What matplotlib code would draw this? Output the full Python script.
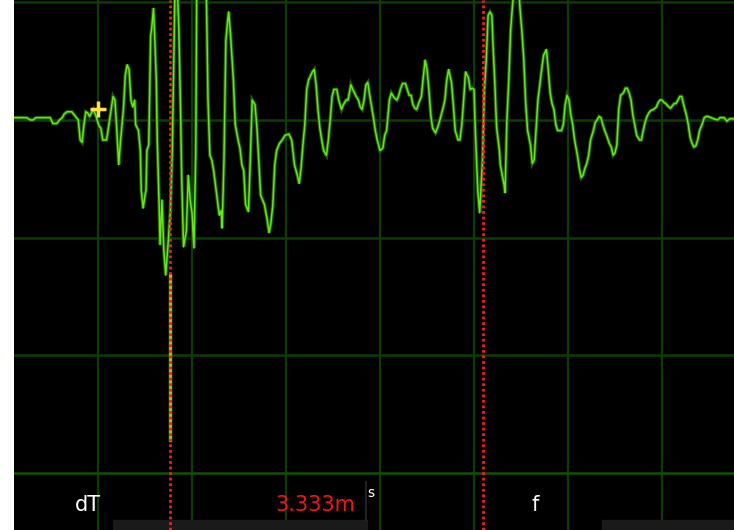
# oscilloscope capture, 1 ms/div, two time cursors
import matplotlib
matplotlib.use('Agg')
import matplotlib.pyplot as plt
from matplotlib.patches import Rectangle

# trace samples: time in ms, amplitude in divisions (0 = centre line)
t_ms = [0.11, 0.24, 0.28, 0.31, 0.34, 0.49, 0.52, 0.56, 0.59, 0.62, 0.64, 0.67, 0.72, 0.76,
        0.79, 0.81, 0.83, 0.85, 0.87, 0.89, 0.91, 0.95, 0.98, 1.01, 1.03, 1.05, 1.09, 1.11,
        1.14, 1.16, 1.18, 1.20, 1.22, 1.24, 1.27, 1.29, 1.31, 1.33, 1.35, 1.37, 1.39, 1.40,
        1.43, 1.45, 1.46, 1.48, 1.50, 1.51, 1.52, 1.54, 1.55, 1.56, 1.57, 1.59, 1.60, 1.62,
        1.63, 1.64, 1.65, 1.66, 1.68, 1.70, 1.72, 1.74, 1.77, 1.79, 1.81, 1.82, 1.84, 1.86,
        1.88, 1.89, 1.91, 1.94, 1.96, 1.98, 2.00, 2.02, 2.04, 2.05, 2.07, 2.12, 2.15, 2.17,
        2.19, 2.21, 2.23, 2.27, 2.29, 2.31, 2.32, 2.34, 2.36, 2.38, 2.39, 2.41, 2.44, 2.46,
        2.49, 2.51, 2.53, 2.55, 2.57, 2.60, 2.62, 2.64, 2.67, 2.69, 2.71, 2.73, 2.77, 2.80,
        2.82, 2.84, 2.86, 2.88, 2.90, 2.93, 2.96, 2.99, 3.03, 3.06, 3.09, 3.12, 3.14, 3.16,
        3.18, 3.20, 3.22, 3.24, 3.28, 3.30, 3.32, 3.34, 3.36, 3.38, 3.40, 3.43, 3.45, 3.47,
        3.49, 3.51, 3.54, 3.56, 3.59, 3.61, 3.64, 3.66, 3.69, 3.71, 3.74, 3.77, 3.79, 3.81,
        3.83, 3.85, 3.87, 3.89, 3.93, 3.95, 3.97, 4.00, 4.03, 4.05, 4.07, 4.10, 4.12, 4.15,
        4.18, 4.20, 4.22, 4.24, 4.27, 4.29, 4.31, 4.33, 4.35, 4.37, 4.39, 4.41, 4.44, 4.46,
        4.48, 4.50, 4.52, 4.54, 4.56, 4.59, 4.61, 4.63, 4.65, 4.67, 4.69, 4.71, 4.73, 4.76,
        4.78, 4.80, 4.83, 4.85, 4.87, 4.89, 4.91, 4.94, 4.96, 4.98, 5.00, 5.01, 5.02, 5.04,
        5.06, 5.09, 5.11, 5.13, 5.15, 5.17, 5.19, 5.20, 5.22, 5.24, 5.27, 5.28, 5.30, 5.32,
        5.33, 5.35, 5.37, 5.39, 5.41, 5.44, 5.47, 5.49, 5.51, 5.53, 5.55, 5.57, 5.60, 5.62,
        5.64, 5.66, 5.68, 5.70, 5.72, 5.74, 5.77, 5.79, 5.81, 5.83, 5.85, 5.87, 5.89, 5.93,
        5.95, 5.97, 5.99, 6.01, 6.03, 6.05, 6.07, 6.10, 6.12, 6.14, 6.16, 6.18, 6.20, 6.22,
        6.24, 6.27, 6.29, 6.31, 6.33, 6.35, 6.37, 6.39, 6.41, 6.44, 6.46, 6.48, 6.50, 6.52,
        6.54, 6.56, 6.59, 6.61, 6.63, 6.65, 6.67, 6.69, 6.71, 6.73, 6.76, 6.78, 6.80, 6.82,
        6.84, 6.86, 6.88, 6.91, 6.94, 6.96, 6.98, 7.00, 7.02, 7.04, 7.06, 7.09, 7.11, 7.13,
        7.15, 7.17, 7.19, 7.21, 7.23, 7.26, 7.28, 7.30, 7.32, 7.34, 7.36, 7.38, 7.40, 7.43,
        7.45, 7.47, 7.49, 7.52, 7.55, 7.59, 7.62, 7.66, 7.69, 7.72, 7.77]
v_div = [0.02, 0.02, 0.00, 0.00, 0.02, 0.02, -0.03, -0.03, 0.00, 0.02, 0.05, 0.07, 0.07, 0.03,
         0.00, -0.17, -0.19, -0.04, 0.07, 0.06, 0.03, 0.09, 0.03, -0.05, -0.07, -0.17, -0.17, -0.07,
         0.09, 0.20, 0.17, -0.09, -0.38, -0.17, 0.09, 0.38, 0.47, 0.43, 0.17, 0.11, 0.17, -0.04,
         -0.09, -0.26, -0.60, -0.75, -0.64, -0.60, -0.26, -0.21, 0.26, 0.72, 0.77, 0.95, 0.77, 0.34,
         -0.17, -0.43, -0.72, -1.06, -0.68, -1.11, -1.32, -1.11, -0.77, -0.26, 0.68, 1.20, 1.20, 0.77,
         0.00, -0.49, -1.08, -0.94, -0.47, -0.68, -0.79, -1.09, -0.26, 1.20, 1.20, 1.20, 1.20, 0.17,
         -0.30, -0.34, -0.43, -0.68, -0.81, -0.77, -0.92, -0.34, 0.68, 0.85, 0.92, 0.72, 0.34, -0.04,
         -0.17, -0.24, -0.38, -0.43, -0.72, -0.78, -0.34, 0.17, 0.13, -0.06, -0.34, -0.64, -0.72, -0.85,
         -0.96, -0.87, -0.72, -0.38, -0.26, -0.20, -0.17, -0.13, -0.12, -0.17, -0.38, -0.47, -0.54, -0.41,
         -0.21, -0.04, 0.26, 0.34, 0.41, 0.43, 0.30, 0.09, -0.07, -0.17, -0.26, -0.30, -0.17, 0.00,
         0.20, 0.26, 0.26, 0.17, 0.09, 0.13, 0.17, 0.17, 0.30, 0.26, 0.21, 0.17, 0.11, 0.09,
         0.17, 0.30, 0.32, 0.21, 0.02, -0.09, -0.17, -0.26, -0.24, -0.13, -0.09, 0.17, 0.23, 0.19,
         0.17, 0.21, 0.27, 0.31, 0.31, 0.26, 0.21, 0.21, 0.13, 0.10, 0.09, 0.14, 0.20, 0.36,
         0.51, 0.43, 0.26, 0.04, -0.07, -0.11, -0.07, -0.02, 0.04, 0.10, 0.17, 0.34, 0.43, 0.32,
         0.13, -0.09, -0.17, -0.17, -0.04, 0.17, 0.41, 0.36, 0.26, 0.27, 0.26, 0.00, -0.21, -0.60,
         -0.79, -0.34, 0.26, 0.51, 0.89, 0.92, 0.89, 0.68, 0.34, -0.06, -0.26, -0.38, -0.47, -0.55,
         -0.62, 0.00, 0.34, 0.77, 0.98, 1.20, 1.20, 0.94, 0.75, 0.51, 0.14, -0.09, -0.21, -0.37,
         -0.34, -0.09, 0.17, 0.30, 0.43, 0.55, 0.60, 0.43, 0.23, 0.14, 0.09, -0.04, -0.09, -0.09,
         -0.04, 0.13, 0.21, 0.17, 0.04, -0.04, -0.17, -0.30, -0.41, -0.49, -0.47, -0.41, -0.37, -0.30,
         -0.17, -0.09, -0.02, 0.00, 0.03, 0.02, -0.04, -0.09, -0.13, -0.20, -0.23, -0.30, -0.28, -0.21,
         0.09, 0.21, 0.23, 0.27, 0.27, 0.23, 0.17, 0.04, -0.04, -0.13, -0.17, -0.17, -0.09, -0.02,
         0.03, 0.06, 0.08, 0.09, 0.11, 0.15, 0.17, 0.17, 0.15, 0.14, 0.12, 0.10, 0.12, 0.14,
         0.14, 0.17, 0.20, 0.20, 0.13, 0.04, -0.04, -0.15, -0.20, -0.23, -0.22, -0.17, -0.09, -0.03,
         0.02, 0.03, 0.03, 0.02, 0.01, 0.00, 0.02, 0.02, -0.01, 0.01, 0.01]

# cursors (ms) and readout
cursor_a = 1.766
dT = 3.333
cursor_b = cursor_a + dT
cursor_overlap = [-1.32, -2.72]   # part of cursor A that sits on the trace
marker = (1.0, 0.09)              # trigger marker
readout = '3.333m'

fig = plt.figure(figsize=(7.34, 5.30), dpi=100, facecolor='white')
ax = fig.add_axes([14 / 734, 0, 720 / 734, 1])
ax.set_facecolor('black')
ax.set_xlim(0.106, 7.766)
ax.set_ylim(-3.489, 1.021)
for s in ax.spines.values():
    s.set_visible(False)
ax.set_xticks([])
ax.set_yticks([])

# graticule
for x in range(1, 8):
    ax.axvline(x, color='#0d3d00', lw=1.6, zorder=1)
for y in [1, 0, -1, -2]:
    ax.axhline(y, color='#0d3d00', lw=1.8, zorder=1)
ax.axhline(-3, color='#0f5200', lw=1.8, zorder=1)

# trace
ax.plot(t_ms, v_div, color='#245800', lw=2.6, zorder=3, solid_joinstyle='miter')
ax.plot(t_ms, v_div, color='#5ef000', lw=1.1, zorder=4)

# cursors
ax.plot([cursor_a, cursor_a], cursor_overlap, color='#9cc800', lw=2.4, zorder=5)
for c in [cursor_a, cursor_b]:
    ax.axvline(c, color='#ff1a1a', lw=2.0, ls=(0, (1, 1)), zorder=6)

ax.plot(*marker, marker='+', ms=12, mew=2.5, color='#ffe040', zorder=7)

# bottom readout
ax.add_patch(Rectangle((1.16, -3.489), 2.70, 0.085, color='#1a1a1a', zorder=2))
ax.add_patch(Rectangle((6.36, -3.489), 1.50, 0.085, color='#1a1a1a', zorder=2))
ax.plot([3.85, 3.85], [-3.40, -3.08], color='#2a2a2a', lw=1.2, zorder=2)
ax.text(0.894, -3.277, 'dT', color='white', fontsize=15, ha='center', va='center', zorder=8)
ax.text(3.309, -3.277, readout, color='#ff1010', fontsize=15, ha='center', va='center', zorder=8)
ax.text(3.90, -3.17, 's', color='white', fontsize=10, ha='center', va='center', zorder=8)
ax.text(5.65, -3.277, 'f', color='white', fontsize=15, ha='center', va='center', zorder=8)

fig.savefig('out.png', dpi=100, facecolor='white')
